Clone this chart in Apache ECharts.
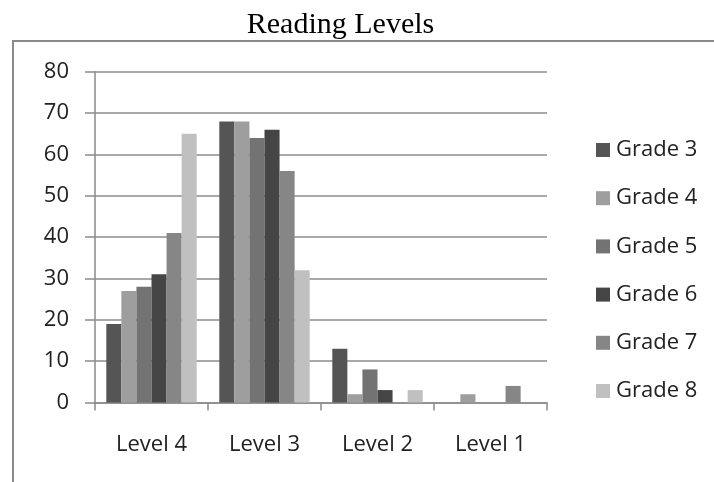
<!DOCTYPE html>
<html>
<head>
<meta charset="utf-8">
<script src="https://cdn.jsdelivr.net/npm/echarts@6/dist/echarts.min.js"></script>
<style>
html,body{margin:0;padding:0;background:#fff;}
#chart{width:714px;height:482px;}
</style>
</head>
<body>
<div id="chart"></div>
<script>
var categories = ['Level 4', 'Level 3', 'Level 2', 'Level 1'];
var grades = ['Grade 3', 'Grade 4', 'Grade 5', 'Grade 6', 'Grade 7', 'Grade 8'];
var grade3 = [19, 68, 13, 0];
var grade4 = [27, 68, 2, 2];
var grade5 = [28, 64, 8, 0];
var grade6 = [31, 66, 3, 0];
var grade7 = [41, 56, 0, 4];
var grade8 = [65, 32, 3, 0];
var yTicks = [0, 10, 20, 30, 40, 50, 60, 70, 80];

var values = [grade3, grade4, grade5, grade6, grade7, grade8];
var colors = ['#555555', '#9e9e9e', '#737373', '#454545', '#868686', '#c0c0c0'];

var chart = echarts.init(document.getElementById('chart'));
var series = grades.map(function (g, i) {
  return {
    name: g,
    type: 'bar',
    data: values[i],
    barGap: '0%',
    barCategoryGap: '20%',
    itemStyle: { color: colors[i] },
    animation: false
  };
});

chart.setOption({
  animation: false,
  backgroundColor: '#ffffff',
  textStyle: { fontFamily: 'Open Sans' },
  graphic: [
    {
      type: 'rect',
      shape: { x: 13, y: 41, width: 900, height: 700 },
      style: { fill: 'none', stroke: '#8a8a8a', lineWidth: 2 },
      silent: true
    },
    {
      type: 'text',
      style: {
        text: 'Reading Levels',
        x: 340.5,
        y: 25,
        textAlign: 'center',
        textVerticalAlign: 'middle',
        fontFamily: 'Liberation Serif',
        fontSize: 30,
        fill: '#000000'
      },
      silent: true
    }
  ],
  grid: { left: 95, right: 167, top: 71.8, bottom: 79.5, containLabel: false },
  legend: {
    orient: 'vertical',
    left: 591,
    top: 134,
    icon: 'rect',
    itemWidth: 14,
    itemHeight: 14,
    itemGap: 26.2,
    data: grades,
    textStyle: { fontFamily: 'Open Sans', fontSize: 22, color: '#222222', lineHeight: 22, padding: [0, 0, 0, 1] }
  },
  xAxis: {
    type: 'category',
    data: categories,
    axisLine: { lineStyle: { color: '#8a8a8a', width: 1.5 } },
    axisTick: { show: true, length: 8, lineStyle: { color: '#8a8a8a', width: 1.5 } },
    axisLabel: { fontFamily: 'Open Sans', fontSize: 22, color: '#222222', margin: 31 },
    splitLine: { show: false }
  },
  yAxis: {
    type: 'value',
    min: 0,
    max: 80,
    interval: 10,
    axisLine: { show: true, lineStyle: { color: '#8a8a8a', width: 1.5 } },
    axisTick: { show: true, length: 10, lineStyle: { color: '#8a8a8a', width: 1.5 } },
    axisLabel: {
      fontFamily: 'Open Sans', fontSize: 22, color: '#222222', margin: 26,
      formatter: function (v) { return yTicks.indexOf(v) >= 0 ? String(v) : ''; }
    },
    splitLine: { show: true, lineStyle: { color: '#8c8c8c', width: 1.5 } }
  },
  series: series
});
</script>
</body>
</html>
